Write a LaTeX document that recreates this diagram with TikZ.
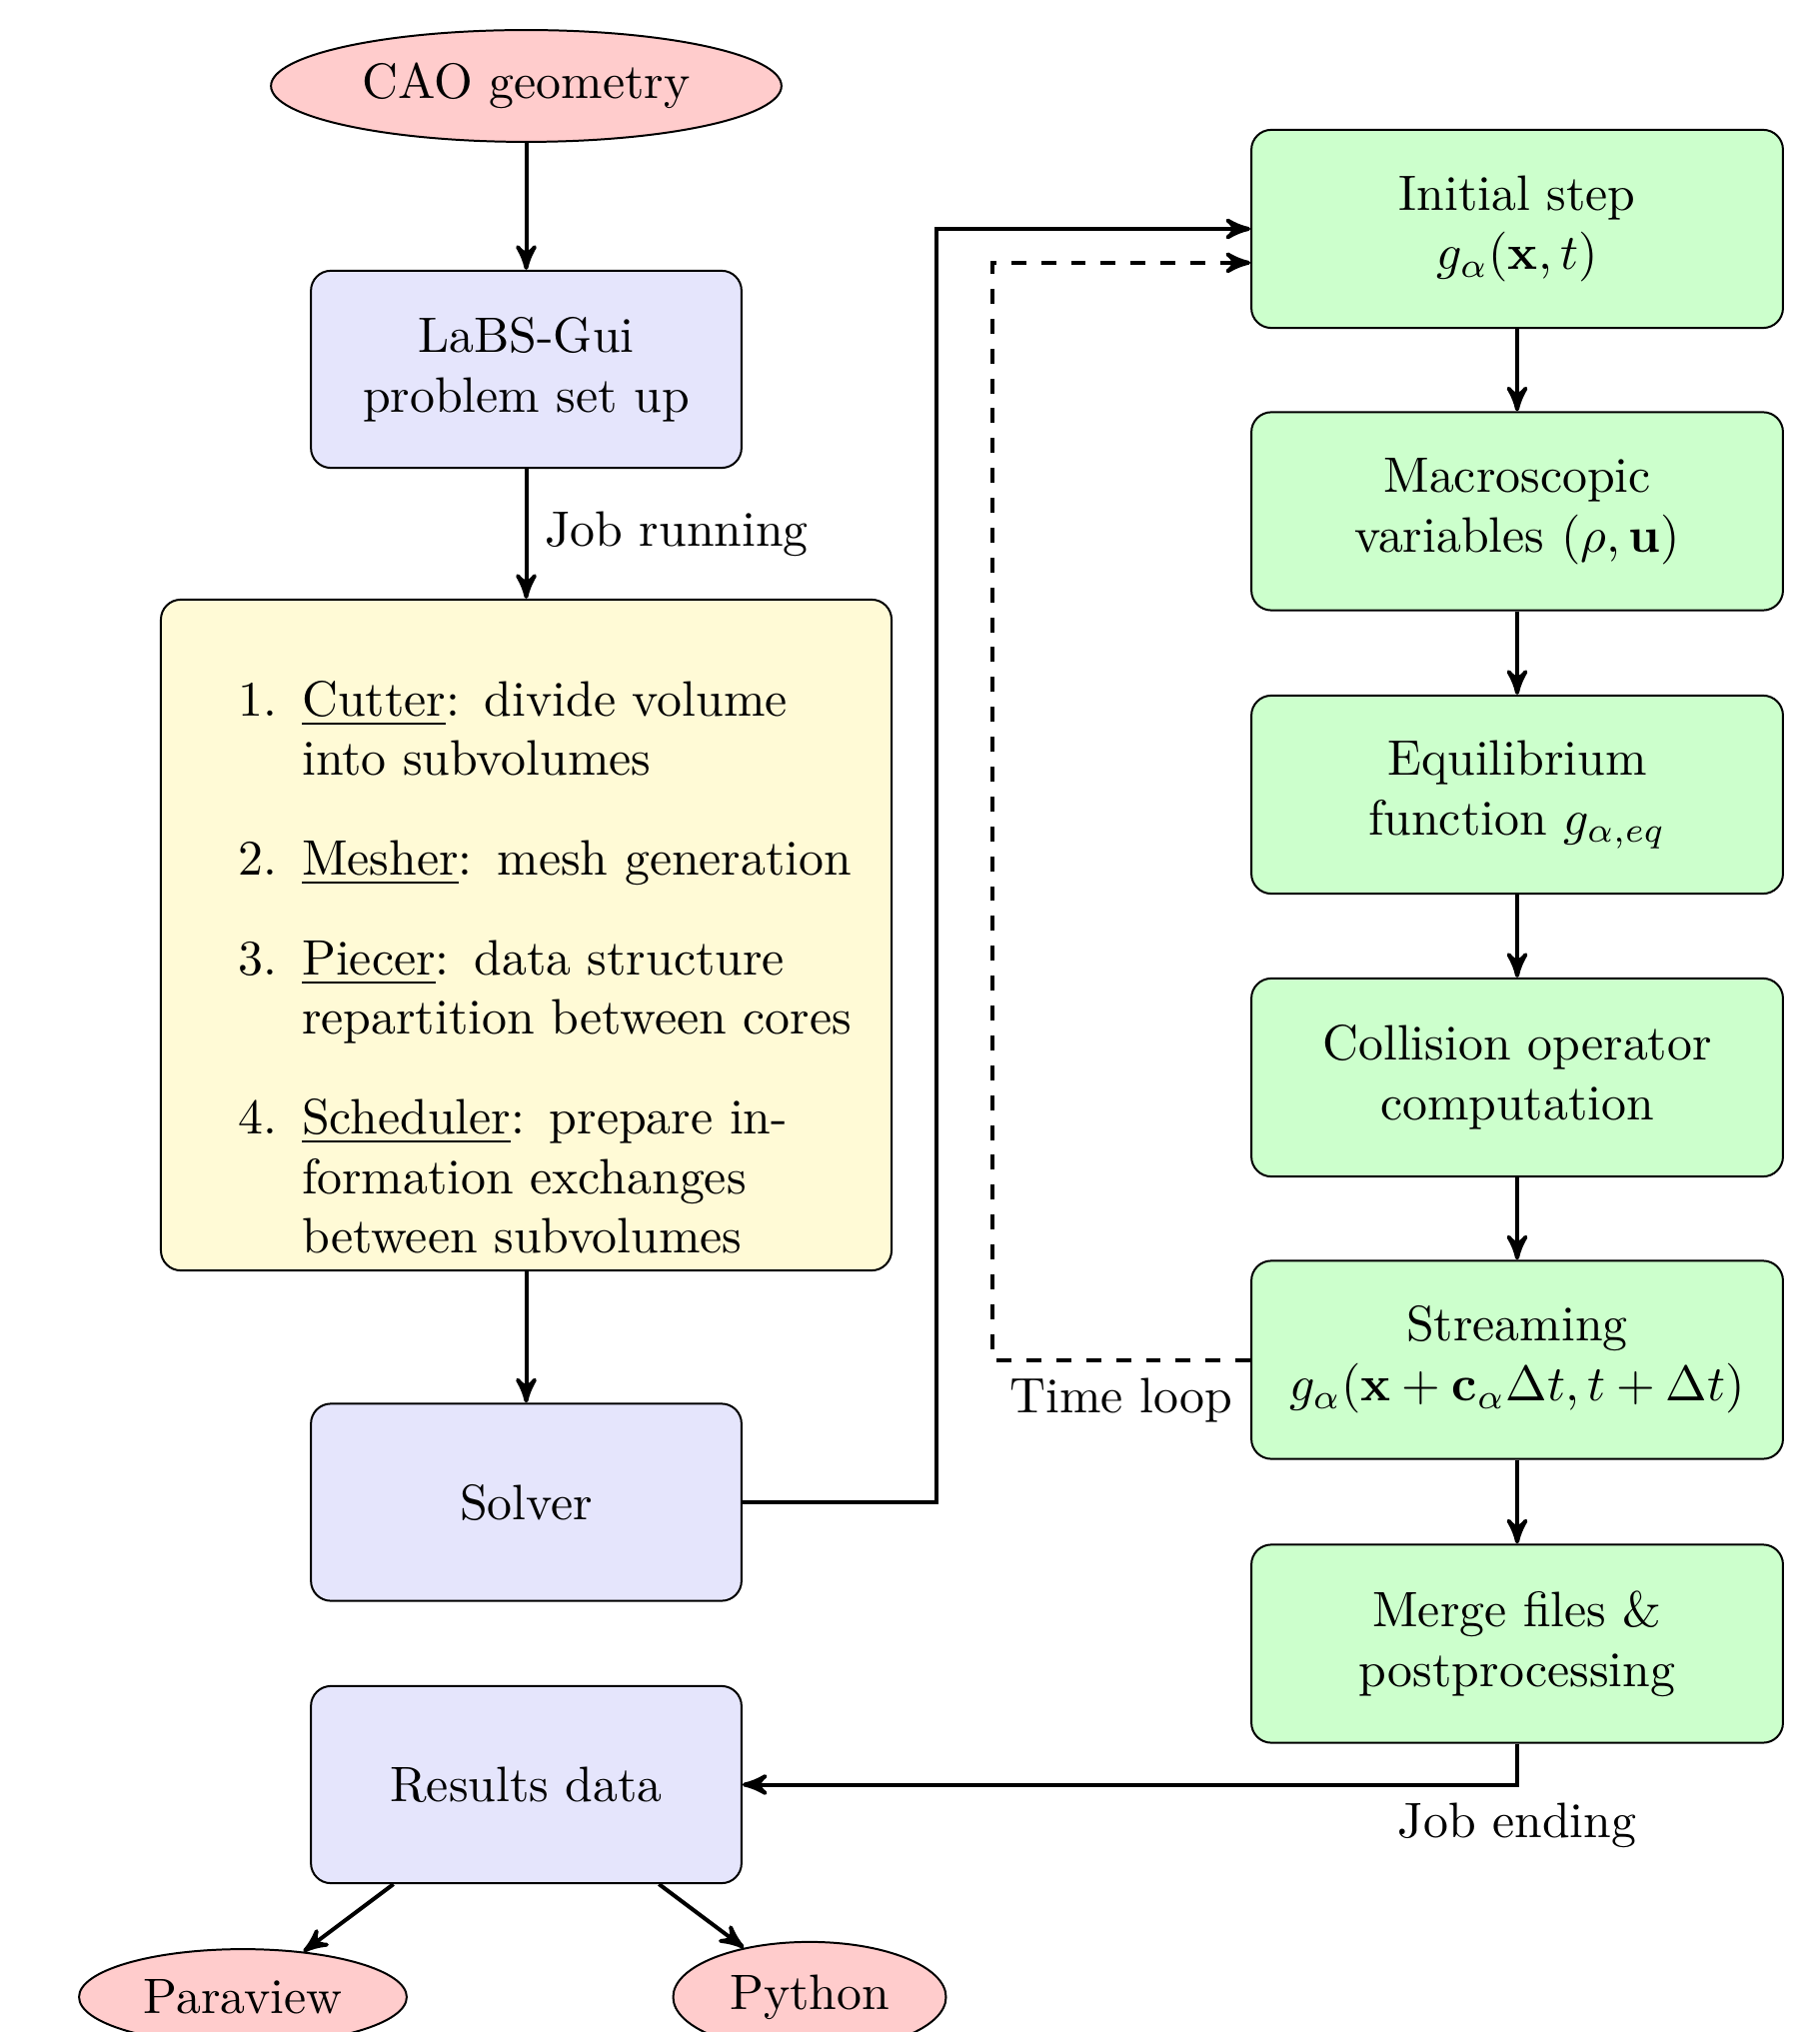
\documentclass[tikz,border=0pt]{standalone}
\usetikzlibrary{shapes.geometric,arrows}
\definecolor{pinkfill}{RGB}{255,204,204}
\definecolor{bluefill}{RGB}{229,229,252}
\definecolor{yellowfill}{RGB}{255,250,214}
\definecolor{greenfill}{RGB}{204,255,204}
\tikzset{
  ovalnode/.style={ellipse, draw, fill=pinkfill},
  bluebox/.style={rectangle, rounded corners, draw, fill=bluefill, align=center,
    minimum width=86.5pt, minimum height=39.6pt},
  greenbox/.style={rectangle, rounded corners, draw, fill=greenfill, align=center,
    minimum width=106.8pt, minimum height=39.8pt},
  yellowbox/.style={rectangle, rounded corners, draw, fill=yellowfill, align=left,
    text width=140.1pt, minimum width=146.8pt},
  flow/.style={->, >=stealth', thick},
  loopflow/.style={->, >=stealth', thick, dashed}
}
\begin{document}
\begin{tikzpicture}[x=0.2008pt, y=-0.2008pt]
\useasboundingbox (0,0) rectangle (1820,2033);
% left column
\node[ovalnode] (cao) at (526.5,86) {CAO geometry};
\node[bluebox] (labs) at (526.5,369.5) {LaBS-Gui\\problem set up};
\node[yellowbox] (prep) at (526.5,935.5) {%
\begin{enumerate}
\item \underline{Cutter}: divide volume into subvolumes
\item \underline{Mesher}: mesh generation
\item \underline{Piecer}: data structure repartition between cores
\item \underline{Scheduler}: prepare in-\newline formation exchanges between subvolumes
\end{enumerate}};
\node[bluebox] (solver) at (526.5,1503) {Solver};
\node[bluebox] (results) at (526.5,1785.5) {Results data};
\node[ovalnode] (paraview) at (243,1998) {Paraview};
\node[ovalnode] (python) at (810,1998) {Python};
% right column
\node[greenbox] (initial) at (1518,229) {Initial step\\$g_\alpha(\mathbf{x},t)$};
\node[greenbox] (macro) at (1518,511.5) {Macroscopic\\variables $(\rho,\mathbf{u})$};
\node[greenbox] (equil) at (1518,795) {Equilibrium\\function $g_{\alpha,eq}$};
\node[greenbox] (collision) at (1518,1078) {Collision operator\\computation};
\node[greenbox] (streaming) at (1518,1360.5) {Streaming\\$g_\alpha(\mathbf{x}+\mathbf{c}_\alpha\Delta t,t+\Delta t)$};
\node[greenbox] (merge) at (1518,1644.5) {Merge files \&\\postprocessing};
% helper coordinates
\coordinate (solvcorner) at (937,229);
\coordinate (loopcorner) at (993,1360.5);
% connectors
\draw[flow] (cao) -- (labs);
\draw[flow] (labs) -- node[right] {Job running} (prep);
\draw[flow] (prep) -- (solver);
\draw[flow] (solver.east) -| (solvcorner) -- (initial.west);
\draw[flow] (initial) -- (macro);
\draw[flow] (macro) -- (equil);
\draw[flow] (equil) -- (collision);
\draw[flow] (collision) -- (streaming);
\draw[flow] (streaming) -- (merge);
\draw[loopflow] (streaming.west) -- node[below] {Time loop} (loopcorner) |- ([yshift=-6.8pt]initial.west);
\draw[flow] (merge.south) |- node[below, pos=0.5] {Job ending} (results.east);
\draw[flow] (results) -- (paraview);
\draw[flow] (results) -- (python);
\end{tikzpicture}
\end{document}
